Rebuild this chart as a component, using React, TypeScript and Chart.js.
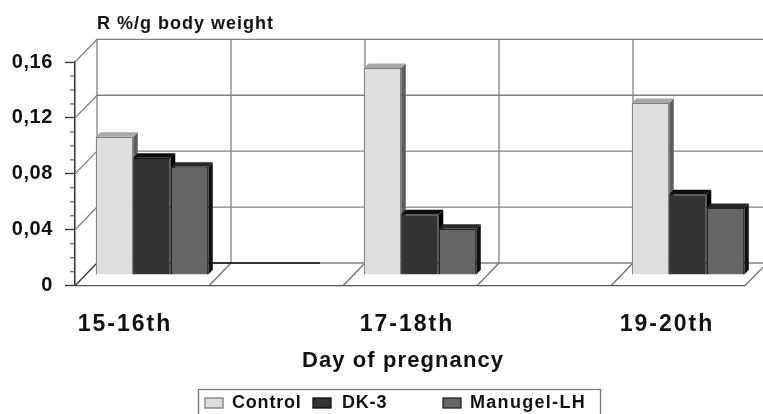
import React, { useEffect, useRef } from "react";
import { Chart, registerables } from "chart.js";

Chart.register(...registerables);

const categories = ["15-16th", "", "17-18th", "", "19-20th"];
const control = [0.0988, null, 0.148, null, 0.123];
const dk3 = [0.0838, null, 0.0435, null, 0.0578];
const manugel = [0.0775, null, 0.033, null, 0.048];
const yMajor = [0, 0.04, 0.08, 0.12, 0.16];
const yMinor = [0.01, 0.02, 0.03, 0.05, 0.06, 0.07, 0.09, 0.1, 0.11, 0.13, 0.14, 0.15];
const labelShift = [-17, 0, -3, 0, -11];

const FONT = '"Liberation Sans", Arial, sans-serif';
const frontFill = ["#dedede", "#333333", "#666666"];
const frontEdge = ["#7a7a7a", "#111111", "#222222"];
const topFill = ["#a8a8a8", "#0c0c0c", "#262626"];
const sideFill = ["#5c5c5c", "#000000", "#111111"];

const WALL_DX = 22;
const WALL_DY = -22.7;
const BAR_DX = 10;
const BAR_DY = -10.7;
const DEPTH = 4.5;

function line(ctx: any, x1: number, y1: number, x2: number, y2: number, color: string, w = 1.3) {
  ctx.strokeStyle = color;
  ctx.lineWidth = w;
  ctx.beginPath();
  ctx.moveTo(x1, y1);
  ctx.lineTo(x2, y2);
  ctx.stroke();
}

function poly(ctx: any, pts: number[][], fill: string) {
  ctx.fillStyle = fill;
  ctx.beginPath();
  pts.forEach((p, i) => (i ? ctx.lineTo(p[0], p[1]) : ctx.moveTo(p[0], p[1])));
  ctx.closePath();
  ctx.fill();
}

function text(ctx: any, s: string, x: number, y: number, size: number, spacing: number, align = "left") {
  ctx.save();
  ctx.font = `bold ${size}px ${FONT}`;
  ctx.fillStyle = "#111111";
  ctx.textAlign = align;
  ctx.textBaseline = "middle";
  ctx.letterSpacing = `${spacing}px`;
  ctx.fillText(s, x, y);
  ctx.restore();
}

const scene3d = {
  id: "scene3d",
  beforeDraw(chart: any) {
    chart.ctx.letterSpacing = "0.6px";
  },
  beforeDatasetsDraw(chart: any) {
    const { ctx, chartArea: a, scales } = chart;
    const y = scales.y;
    const n = categories.length;
    const w = (a.right - a.left) / n;
    ctx.save();
    ctx.letterSpacing = "0px";
    const gray = "#808080";
    yMajor.forEach((v) => {
      const p = y.getPixelForValue(v);
      line(ctx, a.left + WALL_DX, p + WALL_DY, 763, p + WALL_DY, gray);
      line(ctx, a.left, p, a.left + WALL_DX, p + WALL_DY, v === 0 ? "#333333" : gray);
    });
    for (let i = 0; i <= n; i++) {
      const x = a.left + i * w;
      if (i < n) line(ctx, x + WALL_DX, a.top + WALL_DY, x + WALL_DX, a.bottom + WALL_DY, gray);
      if (i > 0) line(ctx, x, a.bottom, x + WALL_DX, a.bottom + WALL_DY, "#707070");
    }
    line(ctx, a.left, a.bottom, a.right, a.bottom, "#555555");
    // zero-height bar in the empty slot
    line(ctx, a.left + w + 2, a.bottom + WALL_DY, a.left + 2 * w - 23, a.bottom + WALL_DY, "#111111", 1.4);
    yMinor.forEach((v) => {
      const p = y.getPixelForValue(v);
      line(ctx, a.left - 5, p, a.left, p, "#444444", 1);
    });
    ctx.translate(BAR_DX, BAR_DY);
    chart.data.datasets.forEach((_: any, di: number) => {
      chart.getDatasetMeta(di).data.forEach((bar: any, i: number) => {
        if (chart.data.datasets[di].data[i] == null) return;
        const p = bar.getProps(["x", "y", "base", "width"]);
        const l = p.x - p.width / 2;
        const r = p.x + p.width / 2;
        poly(ctx, [[r, p.y], [r + DEPTH, p.y - DEPTH], [r + DEPTH, p.base - DEPTH], [r, p.base]], sideFill[di]);
        poly(ctx, [[l, p.y], [l + DEPTH, p.y - DEPTH], [r + DEPTH, p.y - DEPTH], [r, p.y]], topFill[di]);
      });
    });
    ctx.restore();
    ctx.save();
    ctx.translate(BAR_DX, BAR_DY);
  },
  afterDatasetsDraw(chart: any) {
    chart.ctx.restore();
  },
  afterDraw(chart: any) {
    const { ctx, scales } = chart;
    text(ctx, "R %/g body weight", 97, 24, 18, 1);
    categories.forEach((c, i) => {
      if (c) text(ctx, c, scales.x.getPixelForValue(i) + labelShift[i], 325, 23, 2, "center");
    });
    text(ctx, "Day of pregnancy", 403, 361, 22, 1.1, "center");
    ctx.save();
    ctx.letterSpacing = "0px";
    ctx.strokeStyle = "#777777";
    ctx.lineWidth = 1.3;
    ctx.strokeRect(198.5, 389.5, 402, 30);
    const swatches = [[205, 232], [313, 342], [443, 470]];
    chart.data.datasets.forEach((d: any, i: number) => {
      ctx.fillStyle = frontFill[i];
      ctx.fillRect(swatches[i][0], 398, 18, 10);
      ctx.strokeStyle = frontEdge[i];
      ctx.strokeRect(swatches[i][0], 398, 18, 10);
      text(ctx, d.label, swatches[i][1], 403, 18, i === 2 ? 1.3 : 0.8);
    });
    ctx.restore();
  },
};

export default function App() {
  const ref = useRef<HTMLCanvasElement | null>(null);
  useEffect(() => {
    const mk = (label: string, data: any[], i: number) => ({
      label,
      data,
      backgroundColor: frontFill[i],
      borderColor: frontEdge[i],
      borderWidth: 1.2,
      barPercentage: 1,
      categoryPercentage: 0.84,
      clip: false as any,
    });
    const chart = new Chart(ref.current!, {
      type: "bar",
      data: {
        labels: categories,
        datasets: [mk("Control", control, 0), mk("DK-3", dk3, 1), mk("Manugel-LH", manugel, 2)],
      },
      options: {
        animation: false,
        responsive: false,
        layout: { padding: { left: 0, right: 18, top: 62, bottom: 128.3 } },
        plugins: { legend: { display: false }, title: { display: false }, tooltip: { enabled: false } },
        scales: {
          x: {
            grid: { display: false },
            border: { display: false },
            ticks: { display: false },
            afterFit: (s: any) => { s.height = 0; },
          },
          y: {
            min: 0,
            max: 0.16,
            afterFit: (s: any) => { s.width = 75; },
            border: { display: true, color: "#333333", width: 1.5 },
            grid: { drawOnChartArea: false, tickLength: 10, tickColor: "#333333", tickWidth: 1.3 },
            ticks: {
              stepSize: 0.04,
              padding: 12,
              color: "#111111",
              font: { family: FONT, size: 20, weight: "bold" },
              callback: (v: any) => (Number(v) === 0 ? "0" : Number(v).toFixed(2).replace(".", ",")),
            },
          },
        },
      },
      plugins: [scene3d],
    } as any);
    return () => chart.destroy();
  }, []);
  return (
    <div style={{ position: "absolute", left: 0, top: 0, width: 763, height: 414, overflow: "hidden", background: "#fff" }}>
      <canvas ref={ref} width={763} height={414} style={{ display: "block" }} />
    </div>
  );
}
